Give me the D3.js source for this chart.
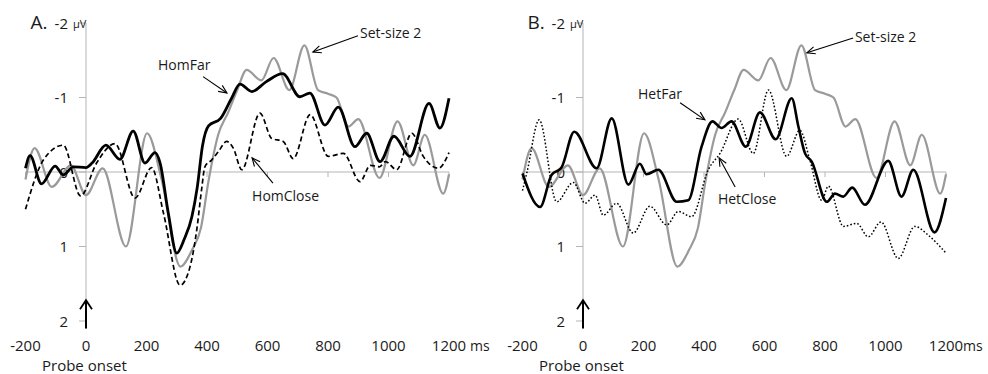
<!DOCTYPE html>
<html><head><meta charset="utf-8">
<script src="https://cdn.jsdelivr.net/npm/d3@7"></script>
<style>
body{margin:0;background:#fff}
svg{display:block}
text{font-family:"Open Sans","Noto Sans",sans-serif;fill:#1a1a1a}
</style>
</head><body>
<svg id="c" width="988" height="374"></svg>
<script>
// ---------- data (ms, µV; negative plotted up) ----------
const xTicks = [-200, 0, 200, 400, 600, 800, 1000, 1200];
const yTicks = [-2, -1, 0, 1, 2];

const setSize2Time = [-200,-170,-113,-50,0,55,132,202,250,312,350,380,405,437,470,500,531,580,620,672,722,767,800,828,868,900,970,1030,1082,1120,1181,1200];
const setSize2Amp  = [0.1,-0.32,0.2,-0.09,0.31,-0.05,1.0,-0.52,0.1,1.27,1.05,0.75,0.12,-0.5,-0.8,-1.1,-1.37,-1.23,-1.53,-1.1,-1.70,-1.1,-1.05,-1.0,-0.61,-0.71,0.08,-0.68,-0.09,-0.5,0.29,0.03];

const homFarTime = [-200,-185,-147,-102,-75,-42,0,20,66,112,156,195,228,245,272,300,325,350,368,385,405,445,480,509,548,595,650,707,740,790,834,889,928,972,1018,1071,1134,1170,1200];
const homFarAmp  = [-0.05,-0.22,0.16,-0.08,0.04,-0.07,-0.06,-0.12,-0.36,-0.17,-0.55,-0.12,-0.26,-0.12,0.55,1.09,0.9,0.6,0.2,-0.35,-0.62,-0.72,-0.98,-1.18,-1.08,-1.21,-1.32,-1.01,-1.06,-0.63,-0.87,-0.34,-0.52,-0.14,-0.48,-0.21,-0.92,-0.59,-0.99];

const homCloseTime = [-200,-141,-75,-18,35,96,162,217,256,311,344,366,382,393,415,437,465,487,515,575,614,652,685,741,801,851,906,940,970,990,1027,1077,1115,1165,1200];
const homCloseAmp  = [0.5,-0.16,-0.36,0.32,-0.12,-0.38,0.35,-0.06,0.55,1.52,1.27,0.78,0.24,-0.07,-0.16,-0.27,-0.41,-0.32,-0.03,-0.79,-0.45,-0.41,-0.18,-0.77,-0.21,-0.25,0.13,-0.09,-0.07,-0.14,-0.03,-0.52,-0.21,-0.05,-0.26];

const hetFarTime = [-200,-142,-104,-71,-29,45,95,150,188,210,249,310,348,392,428,458,491,538,585,637,690,712,734,756,806,833,860,890,932,1009,1053,1092,1162,1200];
const hetFarAmp  = [0.02,0.47,0.04,-0.06,-0.54,-0.05,-0.72,0.17,-0.11,0.03,-0.03,0.40,0.38,-0.34,-0.68,-0.59,-0.68,-0.34,-0.80,-0.44,-0.99,-0.61,-0.25,-0.14,0.40,0.29,0.33,0.21,0.44,-0.15,0.33,-0.03,0.81,0.35];

const hetCloseTime = [-200,-185,-145,-87,-32,7,40,67,111,166,221,277,315,359,414,453,513,563,613,673,717,750,789,811,861,905,943,985,1042,1097,1142,1200];
const hetCloseAmp  = [0.25,0.0,-0.70,0.40,0.14,0.42,0.31,0.58,0.42,0.82,0.46,0.71,0.53,0.6,-0.03,-0.25,-0.71,-0.25,-1.10,-0.21,-0.56,-0.16,0.38,0.19,0.73,0.69,0.87,0.67,1.16,0.73,0.85,1.09];

// annotations: [label, textMs, textUv, fromMs, fromUv, toMs, toUv]
const notesA = [
  ["HomFar", 238, -1.37, 387, -1.28, 466, -1.06],
  ["Set-size 2", 906, -1.80, 899, -1.83, 750, -1.61],
  ["HomClose", 549, 0.39, 618, 0.15, 549, -0.19]
];
const notesB = [
  ["HetFar", 182, -0.98, 321, -0.93, 403, -0.70],
  ["Set-size 2", 899, -1.74, 893, -1.80, 740, -1.60],
  ["HetClose", 446, 0.43, 503, 0.20, 450, -0.19]
];

// ---------- drawing ----------
const svg = d3.select("#c");
const y = d3.scaleLinear().domain([-2, 2]).range([23, 321]);

function zip(t, v){ return t.map((d,i)=>({t:d, v:v[i]})); }

function panel(left, letter, msLabel, series, notes){
  const x = d3.scaleLinear().domain([-200, 1200]).range([left, left + 423.5]);
  const g = svg.append("g");
  const x0 = x(0);

  // zero line
  g.append("line").attr("x1", x(-200)).attr("x2", x(1200))
    .attr("y1", y(0)).attr("y2", y(0)).attr("stroke", "#b5b5b5").attr("stroke-width", 1);
  // x ticks on zero line
  g.selectAll(".xt").data(xTicks.filter(d=>d!==0)).enter().append("line")
    .attr("x1", d=>x(d)).attr("x2", d=>x(d)).attr("y1", y(0)).attr("y2", y(0)+5)
    .attr("stroke", "#b5b5b5");
  // y axis
  g.append("line").attr("x1", x0).attr("x2", x0).attr("y1", y(-2)).attr("y2", y(2.1))
    .attr("stroke", "#b5b5b5").attr("stroke-width", 1);
  g.selectAll(".yt").data(yTicks).enter().append("line")
    .attr("x1", x0-7).attr("x2", x0).attr("y1", d=>y(d)).attr("y2", d=>y(d))
    .attr("stroke", "#b5b5b5");
  // y labels
  g.selectAll(".yl").data(yTicks).enter().append("text")
    .attr("x", x0-18).attr("y", d=>y(d)+5.5).attr("text-anchor","end")
    .attr("font-size", 15).text(d=>d);
  g.append("text").attr("x", x0-13).attr("y", y(-2)+5).attr("font-size", 11).text("µV");
  g.append("text").attr("x", x(-200)+5).attr("y", y(-2)+6).attr("font-size", 19).text(letter);

  // x labels
  g.selectAll(".xl").data(xTicks).enter().append("text")
    .attr("x", d=>x(d)).attr("y", 351).attr("text-anchor","middle")
    .attr("font-size", 15).text(d=>d);
  g.append("text").attr("x", x(1200) + (msLabel === " ms" ? 21 : 17)).attr("y", 351)
    .attr("font-size", 14).text("ms");
  g.append("text").attr("x", x0-44).attr("y", 371).attr("font-size", 15).text("Probe onset");

  // onset arrow
  g.append("line").attr("x1", x0).attr("x2", x0).attr("y1", y(2.1)).attr("y2", y(1.72))
    .attr("stroke", "#000").attr("stroke-width", 2);
  g.append("path").attr("d", `M${x0-6},${y(1.72)+9}L${x0},${y(1.72)}L${x0+6},${y(1.72)+9}`)
    .attr("fill","none").attr("stroke","#000").attr("stroke-width",1.8);

  // curves
  const line = d3.line().x(d=>x(d.t)).y(d=>y(d.v)).curve(d3.curveMonotoneX);
  series.forEach(s=>{
    g.append("path").attr("d", line(zip(s.t, s.v))).attr("fill","none")
      .attr("stroke", s.color).attr("stroke-width", s.w)
      .attr("stroke-dasharray", s.dash || null)
      .attr("stroke-linejoin","round");
  });

  // annotations
  notes.forEach(n=>{
    g.append("text").attr("x", x(n[1])).attr("y", y(n[2])).attr("font-size", 14).text(n[0]);
    const fx = x(n[3]), fy = y(n[4]), tx = x(n[5]), ty = y(n[6]);
    g.append("line").attr("x1",fx).attr("y1",fy).attr("x2",tx).attr("y2",ty)
      .attr("stroke","#000").attr("stroke-width",1.1);
    const a = Math.atan2(ty-fy, tx-fx), L = 9, sp = 0.42;
    const p1 = [tx - L*Math.cos(a-sp), ty - L*Math.sin(a-sp)];
    const p2 = [tx - L*Math.cos(a+sp), ty - L*Math.sin(a+sp)];
    g.append("path").attr("d", `M${p1}L${tx},${ty}L${p2}`).attr("fill","none")
      .attr("stroke","#000").attr("stroke-width",1.1);
  });
}

panel(25.5, "A.", " ms", [
  {t:setSize2Time, v:setSize2Amp, color:"#9a9a9a", w:2.2},
  {t:homCloseTime, v:homCloseAmp, color:"#000", w:1.7, dash:"5,3"},
  {t:homFarTime, v:homFarAmp, color:"#000", w:2.8}
], notesA);

panel(522.5, "B.", "ms", [
  {t:setSize2Time, v:setSize2Amp, color:"#9a9a9a", w:2.2},
  {t:hetCloseTime, v:hetCloseAmp, color:"#000", w:1.5, dash:"1.6,2"},
  {t:hetFarTime, v:hetFarAmp, color:"#000", w:2.6}
], notesB);
</script>
</body></html>
